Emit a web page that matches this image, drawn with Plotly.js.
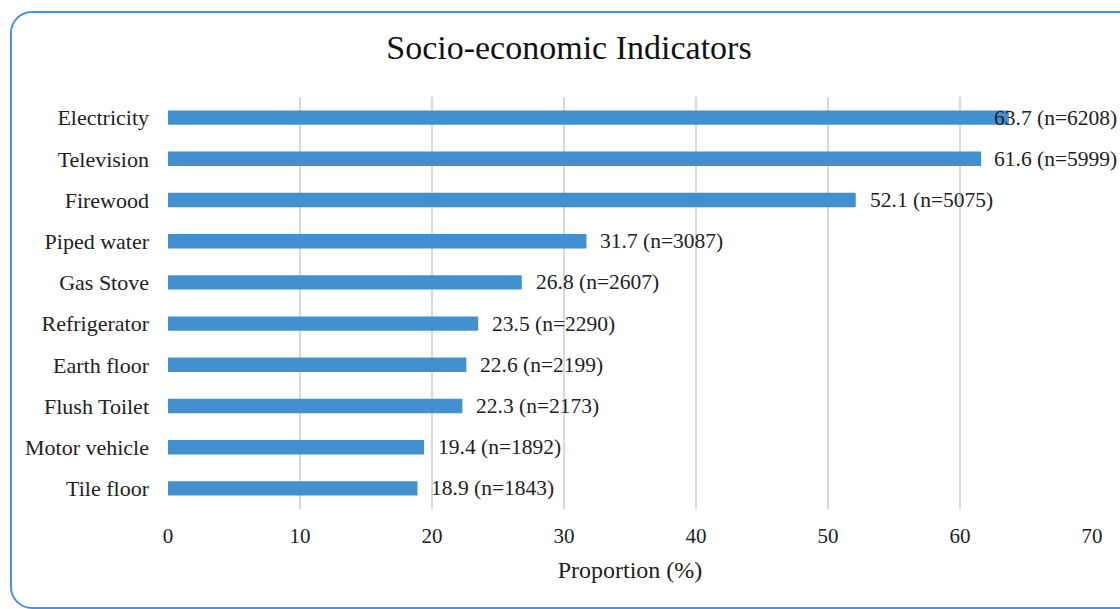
<!DOCTYPE html>
<html>
<head>
<meta charset="utf-8">
<script src="https://cdn.plot.ly/plotly-3.0.1.min.js"></script>
<style>
html,body{margin:0;padding:0;background:#fff;overflow:hidden;}
#wrap{position:relative;width:1120px;height:609px;}
#chart{position:absolute;left:0;top:0;width:1120px;height:609px;}
#frame{position:absolute;left:10px;top:11px;width:1130px;height:594px;border:2px solid #4a90e2;border-radius:22px;pointer-events:none;}
</style>
</head>
<body>
<div id="wrap">
<div id="chart"></div>
<div id="frame"></div>
</div>
<script>
var categories = ["Electricity","Television","Firewood","Piped water","Gas Stove","Refrigerator","Earth floor","Flush Toilet","Motor vehicle","Tile floor"];
var proportions = [63.7,61.6,52.1,31.7,26.8,23.5,22.6,22.3,19.4,18.9];
var counts = [6208,5999,5075,3087,2607,2290,2199,2173,1892,1843];
var xTicks = [0,10,20,30,40,50,60,70];

var serif = "Liberation Serif, Times New Roman, serif";
var labels = proportions.map(function(v,i){return v.toFixed(1)+" (n="+counts[i]+")";});

// label placement: just right of bar, but kept inside the figure
var labelMaxStart = 62.4;
var annotations = proportions.map(function(v,i){
  return {
    x: Math.min(v + 0.9, labelMaxStart), y: categories[i], xref:"x", yref:"y",
    text: labels[i], showarrow:false, xanchor:"left", yanchor:"middle",
    font:{family:serif,size:21.5,color:"#222"}
  };
});

var trace = {
  type:"bar", orientation:"h",
  x: proportions, y: categories,
  marker:{color:"#4390d0"},
  width:0.35,
  hoverinfo:"none"
};

var layout = {
  width:1120, height:609,
  margin:{l:168,r:28,t:97,b:100},
  paper_bgcolor:"rgba(0,0,0,0)", plot_bgcolor:"rgba(0,0,0,0)",
  title:{text:"Socio-economic Indicators", x:0.508, xanchor:"center", y:0.923, yanchor:"middle",
         font:{family:serif,size:34,color:"#111"}},
  xaxis:{range:[0,70], tickvals:xTicks, ticktext:xTicks.map(String),
         showgrid:true, gridcolor:"#d9d9d9", gridwidth:2, zeroline:false, showline:false,
         ticks:"", ticklabelstandoff:12,
         tickfont:{family:serif,size:21,color:"#222"},
         title:{text:"Proportion (%)", font:{family:serif,size:24,color:"#222"}, standoff:14},
         fixedrange:true},
  yaxis:{categoryorder:"array", categoryarray:categories, autorange:"reversed",
         showgrid:false, zeroline:false, showline:false, ticks:"",
         ticklabelstandoff:18,
         tickfont:{family:serif,size:22,color:"#222"}, fixedrange:true},
  annotations: annotations,
  showlegend:false
};

Plotly.newPlot("chart",[trace],layout,{displayModeBar:false,staticPlot:true});
</script>
</body>
</html>
